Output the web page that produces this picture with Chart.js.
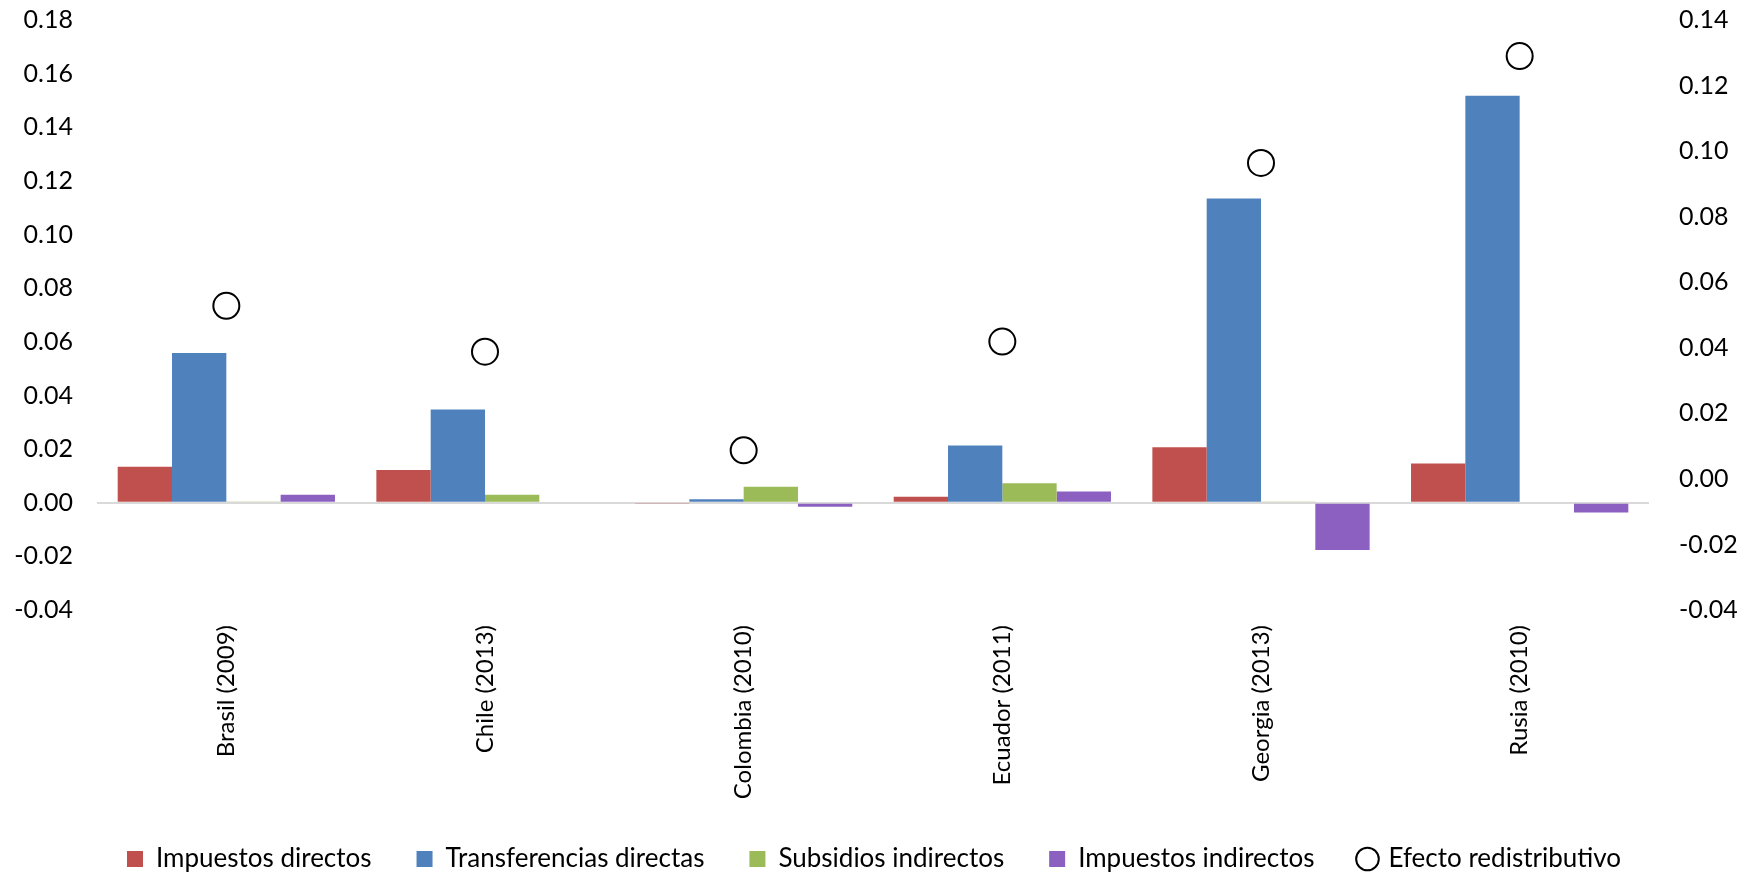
<!DOCTYPE html>
<html lang="es">
<head>
    <meta charset="UTF-8">
    <title>Efecto redistributivo</title>
    <style>
        html, body { margin: 0; padding: 0; background: white; }
        #wrap { width: 1748px; height: 872px; }
    </style>
    <script src="https://cdn.jsdelivr.net/npm/chart.js"></script>
</head>
<body>
    <div id="wrap"><canvas id="chart"></canvas></div>

    <script>
        const paises = ['Brasil (2009)', 'Chile (2013)', 'Colombia (2010)', 'Ecuador (2011)', 'Georgia (2013)', 'Rusia (2010)'];

        // left axis (bars)
        const impuestosDirectos = [0.0134, 0.0122, -0.0005, 0.0022, 0.0207, 0.0146];
        const transferenciasDirectas = [0.0558, 0.0348, 0.0013, 0.0213, 0.1134, 0.1518];
        const subsidiosIndirectos = [0.0005, 0.0030, 0.0060, 0.0073, 0.0005, 0.0];
        const impuestosIndirectos = [0.0030, 0.0, -0.0015, 0.0042, -0.0176, -0.0036];

        // right axis (circles)
        const efectoRedistributivo = [0.0528, 0.0388, 0.0087, 0.0419, 0.0964, 0.1290];

        const family = 'Lato, "Liberation Sans", sans-serif';
        const tickFont = { family, size: 25 };
        const catFont = { family, size: 24 };
        const legendFont = { family, size: 26 };

        const bar = (label, data, color) => ({
            type: 'bar', label, data, yAxisID: 'y',
            backgroundColor: color, borderWidth: 0,
            pointStyle: 'rect', order: 2
        });

        // nudge the legend down a little, and let the long category labels
        // run past the x scale box instead of being clipped
        const layoutTweaks = {
            id: 'layoutTweaks',
            afterLayout(chart) {
                chart.legend.top += 10;
                chart.legend.bottom += 10;
                chart.scales.x.bottom = chart.height;
            }
        };

        new Chart(document.getElementById('chart'), {
            data: {
                labels: paises,
                datasets: [
                    bar('Impuestos directos', impuestosDirectos, '#c0504d'),
                    bar('Transferencias directas', transferenciasDirectas, '#4f81bd'),
                    bar('Subsidios indirectos', subsidiosIndirectos, '#9bbb59'),
                    bar('Impuestos indirectos', impuestosIndirectos, '#8b60c0'),
                    {
                        type: 'line', label: 'Efecto redistributivo', data: efectoRedistributivo,
                        yAxisID: 'y1', showLine: false, order: 1,
                        pointStyle: 'circle', pointRadius: 13, pointBorderWidth: 2,
                        pointBackgroundColor: 'white', pointBorderColor: 'black',
                        backgroundColor: 'white', borderColor: 'black', borderWidth: 2
                    }
                ]
            },
            plugins: [layoutTweaks],
            options: {
                responsive: true,
                maintainAspectRatio: false,
                animation: false,
                layout: { padding: { top: 20, bottom: 0, left: 0, right: 0 } },
                datasets: { bar: { categoryPercentage: 0.84, barPercentage: 1.0 } },
                plugins: {
                    tooltip: { enabled: false },
                    legend: {
                        position: 'bottom',
                        labels: {
                            font: legendFont, color: '#000', usePointStyle: true,
                            boxWidth: 16, boxHeight: 16, padding: 45,
                            sort: (a, b) => a.datasetIndex - b.datasetIndex
                        }
                    }
                },
                scales: {
                    x: {
                        grid: { display: false },
                        border: { display: false },
                        ticks: { font: catFont, color: '#000', minRotation: 90, maxRotation: 90, padding: 7 },
                        afterFit: s => { s.height = 181; }
                    },
                    y: {
                        position: 'left',
                        min: -0.04, max: 0.18,
                        border: { display: false },
                        grid: {
                            drawTicks: false, lineWidth: 2,
                            color: c => c.tick && c.tick.value === 0 ? '#d9d9d9' : 'transparent'
                        },
                        ticks: { font: tickFont, color: '#000', stepSize: 0.02, padding: 24, callback: v => v.toFixed(2) },
                        afterFit: s => { s.width = 97; s.paddingTop = 0; s.paddingBottom = 0; }
                    },
                    y1: {
                        position: 'right',
                        min: -0.04, max: 0.14,
                        border: { display: false },
                        grid: { display: false },
                        ticks: { font: tickFont, color: '#000', stepSize: 0.02, padding: 22, callback: v => v.toFixed(2) },
                        afterFit: s => { s.width = 99; s.paddingTop = 0; s.paddingBottom = 0; }
                    }
                }
            }
        });
    </script>
</body>
</html>
